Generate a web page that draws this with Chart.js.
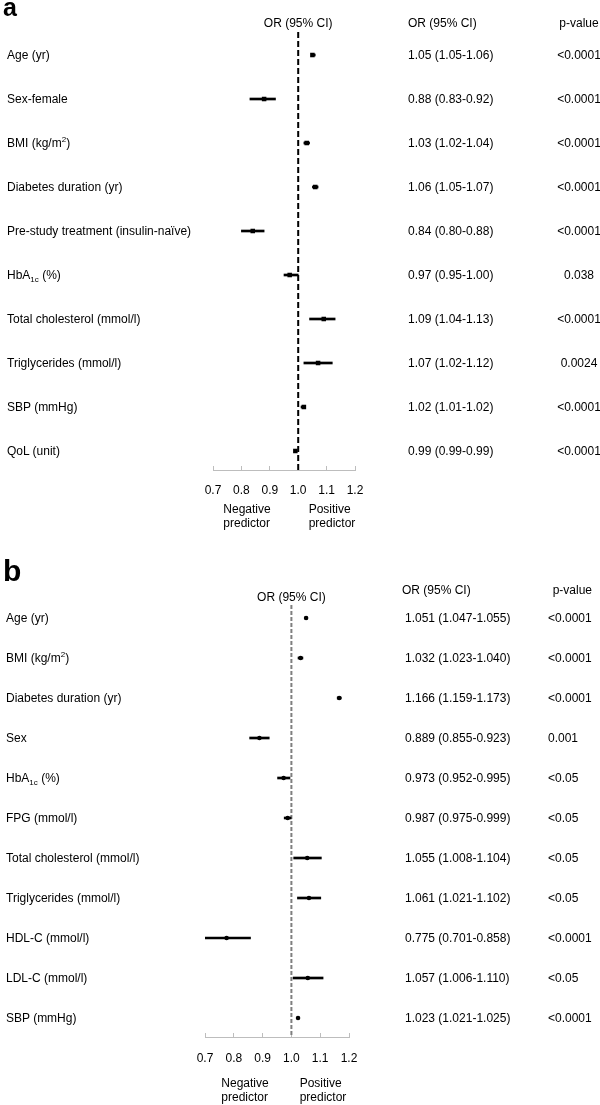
<!DOCTYPE html>
<html>
<head>
<meta charset="utf-8">
<script src="https://cdn.jsdelivr.net/npm/chart.js@4.4.1/dist/chart.umd.min.js"></script>
<style>
  html, body { margin: 0; padding: 0; background: #fff; }
  body { width: 600px; height: 1105px; position: relative; overflow: hidden;
         font-family: "Liberation Sans", Arial, sans-serif; font-size: 12px; color: #000; }
  canvas { position: absolute; left: 0; }
  .t { position: absolute; white-space: nowrap; line-height: 14px; }
  sub, sup { font-size: 8px; line-height: 0; }
</style>
</head>
<body>
<canvas id="ca" width="600" height="540" style="top:0px"></canvas>
<canvas id="cb" width="600" height="565" style="top:540px"></canvas>

<script>
// ---------------- Panel a data ----------------
const labelsA = ['Age (yr)', 'Sex-female', 'BMI (kg/m<sup>2</sup>)', 'Diabetes duration (yr)',
  'Pre-study treatment (insulin-naïve)', 'HbA<sub>1c</sub> (%)', 'Total cholesterol (mmol/l)',
  'Triglycerides (mmol/l)', 'SBP (mmHg)', 'QoL (unit)'];
const orA  = [1.05, 0.88, 1.03, 1.06, 0.84, 0.97, 1.09, 1.07, 1.02, 0.99];
const loA  = [1.05, 0.83, 1.02, 1.05, 0.80, 0.95, 1.04, 1.02, 1.01, 0.99];
const hiA  = [1.06, 0.92, 1.04, 1.07, 0.88, 1.00, 1.13, 1.12, 1.02, 0.99];
const pA   = ['<0.0001', '<0.0001', '<0.0001', '<0.0001', '<0.0001', '0.038', '<0.0001', '0.0024', '<0.0001', '<0.0001'];

// ---------------- Panel b data ----------------
const labelsB = ['Age (yr)', 'BMI (kg/m<sup>2</sup>)', 'Diabetes duration (yr)', 'Sex',
  'HbA<sub>1c</sub> (%)', 'FPG (mmol/l)', 'Total cholesterol (mmol/l)', 'Triglycerides (mmol/l)',
  'HDL-C (mmol/l)', 'LDL-C (mmol/l)', 'SBP (mmHg)'];
const orB  = [1.051, 1.032, 1.166, 0.889, 0.973, 0.987, 1.055, 1.061, 0.775, 1.057, 1.023];
const loB  = [1.047, 1.023, 1.159, 0.855, 0.952, 0.975, 1.008, 1.021, 0.701, 1.006, 1.021];
const hiB  = [1.055, 1.040, 1.173, 0.923, 0.995, 0.999, 1.104, 1.102, 0.858, 1.110, 1.025];
const pB   = ['<0.0001', '<0.0001', '<0.0001', '0.001', '<0.05', '<0.05', '<0.05', '<0.05', '<0.0001', '<0.05', '<0.0001'];

// ---------------- Axis ----------------
const xTicks = [0.7, 0.8, 0.9, 1.0, 1.1, 1.2];
const refValue = 1.0;

function addText(html, x, y, opts) {
  opts = opts || {};
  const d = document.createElement('div');
  d.className = 't';
  d.innerHTML = html;
  d.style.left = x + 'px';
  d.style.top = y + 'px';
  const tx = opts.align === 'center' ? '-50%' : (opts.align === 'right' ? '-100%' : '0');
  d.style.transform = 'translate(' + tx + ', -50%)';
  if (opts.textAlign) d.style.textAlign = opts.textAlign;
  if (opts.style) Object.assign(d.style, opts.style);
  document.body.appendChild(d);
  return d;
}

function makePanel(p) {
  const n = p.or.length;
  const cis = p.or.map((v, i) => ({ x: [p.lo[i], p.hi[i]], y: i }));
  const pts = p.or.map((v, i) => ({ x: v, y: i }));
  const chart = new Chart(document.getElementById(p.canvas), {
    type: 'bar',
    data: {
      datasets: [
        {
          type: 'line', label: 'ref', data: [{ x: refValue, y: p.yMin }, { x: refValue, y: p.yMax }],
          borderColor: p.refColor, borderWidth: 2, borderDash: p.dash, pointRadius: 0, fill: false, order: 3
        },
        {
          type: 'bar', label: 'CI', data: cis, backgroundColor: '#000', borderWidth: 0,
          barThickness: 2, borderSkipped: false, order: 2
        },
        {
          type: 'line', label: 'OR', data: pts, showLine: false, pointStyle: p.pointStyle,
          pointRadius: p.pointRadius, pointBackgroundColor: '#000', pointBorderColor: '#000',
          pointBorderWidth: 0, order: 1
        }
      ]
    },
    options: {
      indexAxis: 'y',
      responsive: false,
      animation: false,
      devicePixelRatio: 1,
      events: [],
      layout: { padding: p.padding },
      plugins: { legend: { display: false }, tooltip: { enabled: false } },
      scales: {
        x: {
          type: 'linear', position: 'bottom', min: xTicks[0], max: xTicks[xTicks.length - 1],
          afterBuildTicks: s => { s.ticks = xTicks.map(v => ({ value: v })); },
          afterFit: s => { s.height = 30; },
          ticks: {
            callback: v => Number(v).toFixed(1), color: '#000', padding: p.tickPad,
            font: { family: '"Liberation Sans", Arial, sans-serif', size: 12 }, maxRotation: 0
          },
          grid: { drawOnChartArea: false, drawTicks: true, tickLength: -4, color: '#bdbdbd', lineWidth: 1 },
          border: { display: true, color: '#bdbdbd', width: 1 }
        },
        y: {
          type: 'linear', reverse: true, min: p.yMin, max: p.yMax, display: false, offset: false,
          grid: { display: false, offset: false }
        }
      }
    }
  });

  const top = p.canvasTop;
  const ys = chart.scales.y, xs = chart.scales.x;
  const xRef = xs.getPixelForValue(refValue);
  addText(p.letter, p.letterPos[0], p.letterPos[1], { style: { fontWeight: 'bold', fontSize: p.letterSize + 'px', lineHeight: '1' } });
  addText('OR (95% CI)', xRef, p.headY, { align: 'center' });
  addText('OR (95% CI)', p.colHeadOR[0], p.colHeadOR[1]);
  addText('p-value', p.colHeadP[0], p.colHeadP[1], { align: p.colHeadP[2] });
  for (let i = 0; i < n; i++) {
    const y = ys.getPixelForValue(i) + top;
    addText(p.labels[i], p.labelX, y);
    const txt = p.or[i].toFixed(p.dec) + ' (' + p.lo[i].toFixed(p.dec) + '-' + p.hi[i].toFixed(p.dec) + ')';
    addText(txt, p.orX, y);
    addText(p.pv[i], p.pX, y, { align: p.pAlign });
  }
  addText('Negative<br>predictor', p.negX, p.predY, { align: 'center', textAlign: 'left' });
  addText('Positive<br>predictor', p.posX, p.predY, { align: 'center', textAlign: 'left' });
  return chart;
}

makePanel({
  canvas: 'ca', canvasTop: 0, labels: labelsA, or: orA, lo: loA, hi: hiA, pv: pA, dec: 2,
  padding: { left: 213, right: 245, top: 32, bottom: 40 },
  yMin: -0.523, yMax: 9.432, tickPad: 17,
  refColor: '#000', dash: [6, 3], pointStyle: 'rect', pointRadius: 3.2,
  letter: 'a', letterPos: [3, 7], letterSize: 25,
  headY: 23, colHeadOR: [408, 23], colHeadP: [579, 23, 'center'],
  labelX: 7, orX: 408, pX: 579, pAlign: 'center',
  negX: 247, posX: 332, predY: 516
});

makePanel({
  canvas: 'cb', canvasTop: 540, labels: labelsB, or: orB, lo: loB, hi: hiB, pv: pB, dec: 3,
  padding: { left: 205, right: 251, top: 65, bottom: 38 },
  yMin: -0.325, yMax: 10.475, tickPad: 18,
  refColor: '#7f7f7f', dash: [4, 2], pointStyle: 'circle', pointRadius: 2.3,
  letter: 'b', letterPos: [3, 571], letterSize: 30,
  headY: 597, colHeadOR: [402, 590], colHeadP: [592, 590, 'right'],
  labelX: 6, orX: 405, pX: 548, pAlign: 'left',
  negX: 245, posX: 323, predY: 1090
});
</script>
</body>
</html>
